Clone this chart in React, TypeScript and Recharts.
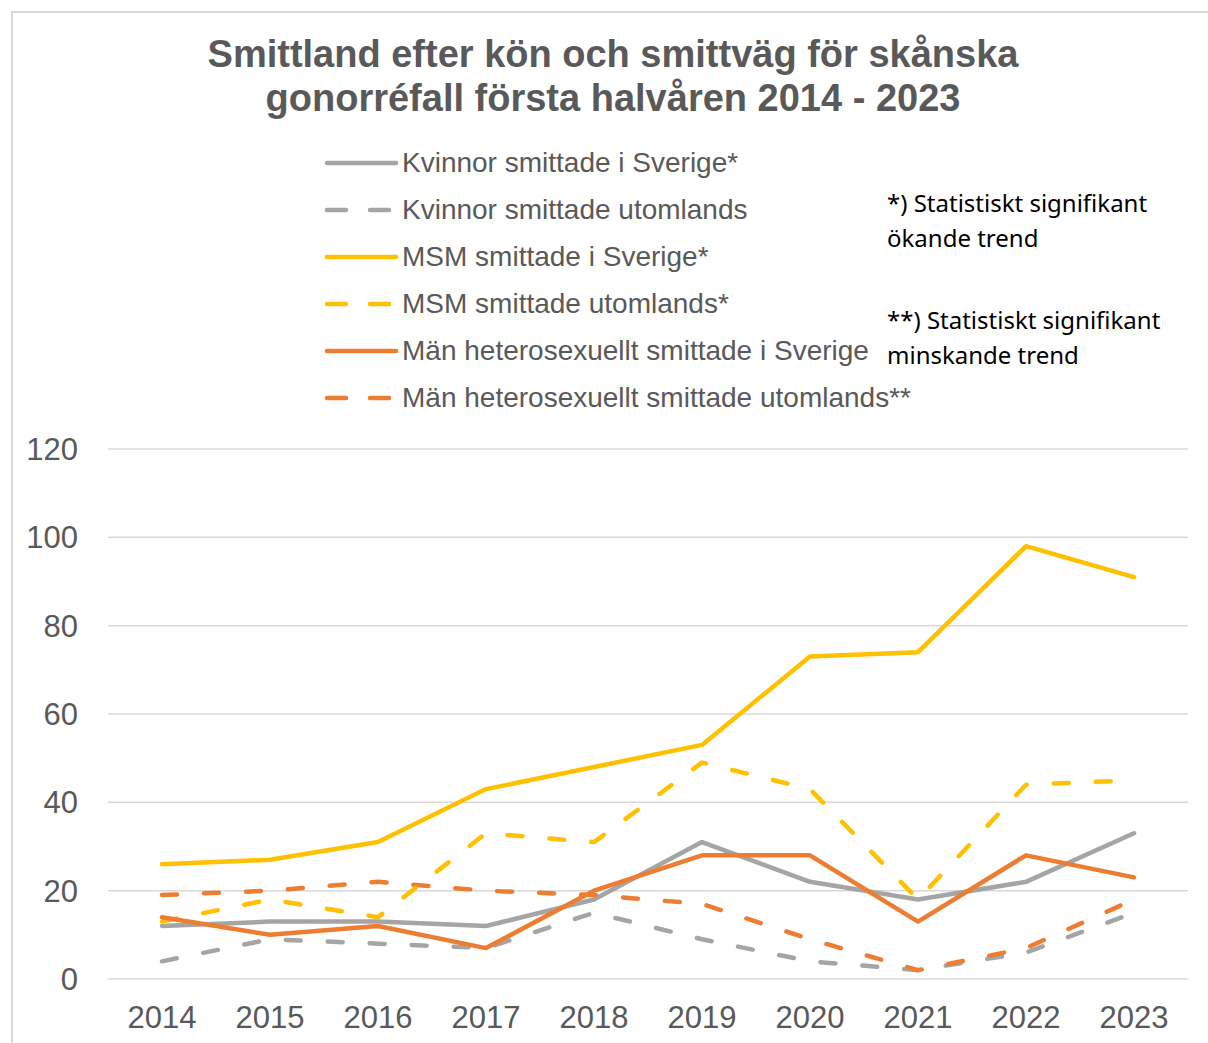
import { LineChart, Line, XAxis, YAxis, CartesianGrid } from "recharts";

const years = ["2014", "2015", "2016", "2017", "2018", "2019", "2020", "2021", "2022", "2023"];
const kvinnorSverige = [12, 13, 13, 12, 18, 31, 22, 18, 22, 33];
const kvinnorUtomlands = [4, 9, 8, 7, 15, 9, 4, 2, 6, 15];
const msmSverige = [26, 27, 31, 43, 48, 53, 73, 74, 98, 91];
const msmUtomlands = [13, 18, 14, 33, 31, 49, 43, 18, 44, 45];
const manSverige = [14, 10, 12, 7, 20, 28, 28, 13, 28, 23];
const manUtomlands = [19, 20, 22, 20, 19, 17, 9, 2, 7, 18];
const yTicks = [0, 20, 40, 60, 80, 100, 120];

const series = [
  { key: "kvS", name: "Kvinnor smittade i Sverige*", values: kvinnorSverige, color: "#a5a5a5", dashed: false },
  { key: "kvU", name: "Kvinnor smittade utomlands", values: kvinnorUtomlands, color: "#a5a5a5", dashed: true },
  { key: "msmS", name: "MSM smittade i Sverige*", values: msmSverige, color: "#ffc000", dashed: false },
  { key: "msmU", name: "MSM smittade utomlands*", values: msmUtomlands, color: "#ffc000", dashed: true },
  { key: "manS", name: "Män heterosexuellt smittade i Sverige", values: manSverige, color: "#ed7d31", dashed: false },
  { key: "manU", name: "Män heterosexuellt smittade utomlands**", values: manUtomlands, color: "#ed7d31", dashed: true },
];

// draw order: gray dashed at bottom, then the rest
const drawOrder = ["kvU", "kvS", "manU", "msmU", "msmS", "manS"];

const data = years.map((year, i) => {
  const row: Record<string, string | number> = { year };
  series.forEach((s) => (row[s.key] = s.values[i]));
  return row;
});

const font = "'Liberation Sans', Arial, sans-serif";
const textColor = "#595959";
const dash = "15 27";

export default function App() {
  return (
    <div style={{ position: "absolute", left: 0, top: 0, width: 1208, height: 1043, overflow: "hidden", background: "#fff", fontFamily: font }}>
      <div style={{ position: "absolute", left: 11, top: 11, width: 1300, height: 1200, border: "2px solid #d9d9d9" }} />
      <div style={{ position: "absolute", left: 0, top: 32, width: 1226, textAlign: "center", fontSize: 38, fontWeight: "bold", color: textColor, lineHeight: "44px" }}>
        Smittland efter kön och smittväg för skånska
        <br />
        gonorréfall första halvåren 2014 - 2023
      </div>

      {series.map((s, i) => (
        <div key={s.key} style={{ position: "absolute", left: 324, top: 163 + i * 47 - 20, height: 40, display: "flex", alignItems: "center" }}>
          <svg width={76} height={10} style={{ display: "block" }}>
            <line x1={3} y1={5} x2={72} y2={5} stroke={s.color} strokeWidth={4.5} strokeLinecap="round" strokeDasharray={s.dashed ? "19 24" : undefined} />
          </svg>
          <span style={{ fontSize: 28, color: textColor, marginLeft: 2, whiteSpace: "nowrap" }}>{s.name}</span>
        </div>
      ))}

      <div style={{ position: "absolute", left: 887, top: 185, fontFamily: "'Noto Sans', sans-serif", fontSize: 24, lineHeight: "35px", color: "#000" }}>
        *) Statistiskt signifikant
        <br />
        ökande trend
      </div>
      <div style={{ position: "absolute", left: 887, top: 302, fontFamily: "'Noto Sans', sans-serif", fontSize: 24, lineHeight: "35px", color: "#000" }}>
        **) Statistiskt signifikant
        <br />
        minskande trend
      </div>

      <div style={{ position: "absolute", left: 0, top: 0 }}>
        <LineChart width={1208} height={1043} data={data} margin={{ top: 449, right: 20, bottom: 0, left: 0 }}>
          <CartesianGrid vertical={false} stroke="#d9d9d9" strokeWidth={1.5} />
          <XAxis
            dataKey="year"
            axisLine={false}
            tickLine={false}
            tickSize={0}
            tickMargin={27}
            padding={{ left: 54, right: 54 }}
            height={64}
            tick={{ fill: textColor, fontSize: 31, fontFamily: font }}
          />
          <YAxis
            domain={[0, 120]}
            ticks={yTicks}
            axisLine={false}
            tickLine={false}
            tickSize={0}
            tickMargin={30}
            width={108}
            tick={{ fill: textColor, fontSize: 31, fontFamily: font }}
          />
          {drawOrder.map((k) => {
            const s = series.find((x) => x.key === k)!;
            return (
              <Line
                key={s.key}
                dataKey={s.key}
                name={s.name}
                stroke={s.color}
                strokeWidth={4.5}
                strokeLinecap="round"
                strokeLinejoin="round"
                strokeDasharray={s.dashed ? dash : undefined}
                dot={false}
                activeDot={false}
                isAnimationActive={false}
              />
            );
          })}
        </LineChart>
      </div>
    </div>
  );
}
